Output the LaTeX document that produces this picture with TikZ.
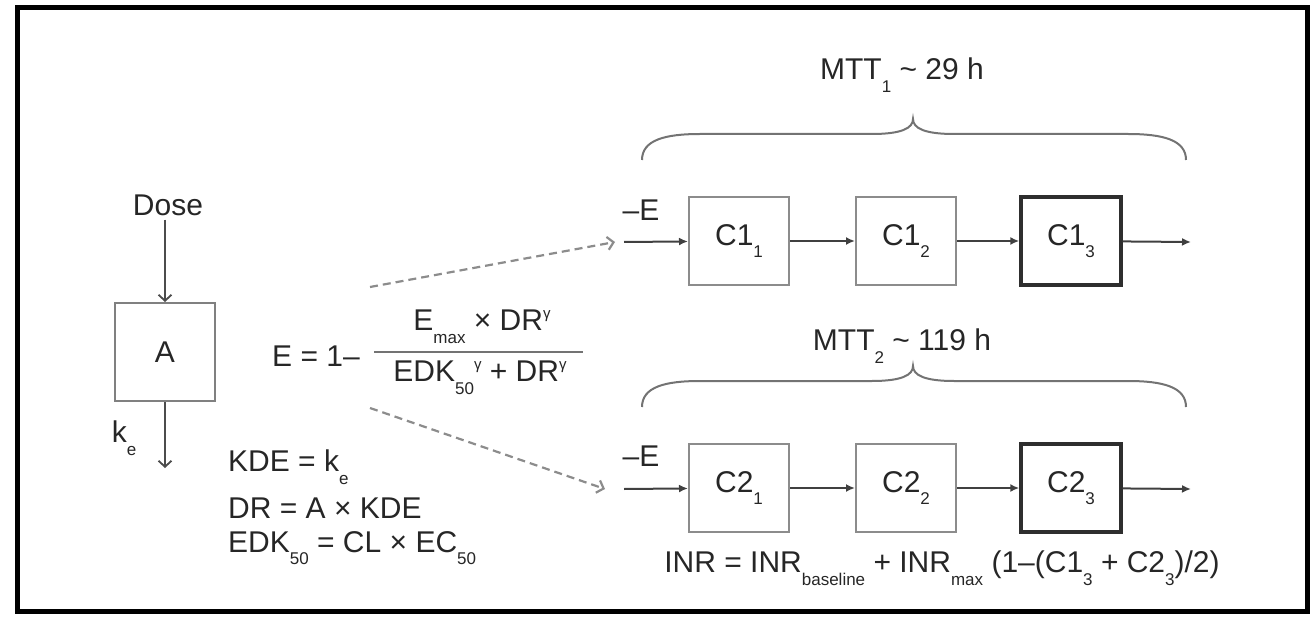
\documentclass[tikz,border=0pt]{standalone}
\usepackage{fontspec}
\setmainfont{Liberation Sans}
\usetikzlibrary{arrows.meta}
\newcommand{\lsub}[1]{\raisebox{-0.42em}{\fontsize{17}{17}\selectfont #1}}
\newcommand{\lsup}[1]{\raisebox{0.42em}{\fontsize{15}{15}\selectfont #1}}
\begin{document}
\begin{tikzpicture}[x=1pt,y=-1pt,
  txt/.style={font=\fontsize{30}{35}\selectfont, text=black!85, inner sep=0pt},
  comp/.style={txt, draw=black!45, line width=2pt, minimum width=100pt, minimum height=88pt},
  compthick/.style={comp, draw=black!82, line width=3.4pt},
  flow/.style={draw=black!75, line width=2pt, -{Latex[length=9pt,width=8pt]}},
  vflow/.style={draw=black!70, line width=1.8pt, -{Straight Barb[length=6pt,width=13pt]}},
  dasharrow/.style={draw=black!45, line width=2.2pt, dash pattern=on 8pt off 5pt, -{Straight Barb[length=6pt,width=13pt]}},
  bracepath/.style={draw=black!55, line width=2pt}
]
\useasboundingbox (0,0) rectangle (1314,620);
\draw[line width=5pt, black] (17,8) rectangle (1307,611);

% left part
\node[txt] (dose) at (168,205) {Dose};
\node[txt, draw=black!50, line width=2pt, minimum width=100pt, minimum height=98pt] (A) at (165,352) {A};
\draw[vflow] (A.north |- dose.south) ++(0,4) -- (A.north);
\coordinate (keend) at (165,468);
\draw[vflow] (A.south) -- (keend);
\node[txt] (ke) at (124,438) {k\lsub{e}};

\node[txt, anchor=west] (kde) at (228,467) {KDE = k\lsub{e}};
\node[txt, anchor=west] (dr) at (228,508) {DR = A × KDE};
\node[txt, anchor=west] (edk) at (228,548) {EDK\lsub{50} = CL × EC\lsub{50}};

% effect formula
\node[txt] (eq) at (316,356) {E = 1–};
\node[txt] (num) at (482,327) {E\lsub{max} × DR\lsup{γ}};
\node[txt] (den) at (480,378) {EDK\lsub{50}\lsup{γ} + DR\lsup{γ}};
\draw[draw=black!55, line width=2pt] (374,352) -- (583,352);

\coordinate (d1s) at (370,287);
\coordinate (d1e) at (615,242);
\coordinate (d2s) at (370,408);
\coordinate (d2e) at (605,489);
\draw[dasharrow] (d1s) -- (d1e);
\draw[dasharrow] (d2s) -- (d2e);

% top chain
\node[txt] (mtt1) at (902,75) {MTT\lsub{1} \textasciitilde{} 29 h};
\draw[bracepath] (642,160) .. controls (642,140) and (665,134) .. (700,134) -- (872,134) .. controls (902,134) and (913,128) .. (913,119) .. controls (913,128) and (924,134) .. (954,134) -- (1128,134) .. controls (1163,134) and (1186,140) .. (1186,160);
\coordinate (in1) at (624,242);
\node[txt] (me1) at (641,210) {–E};
\node[comp] (C11) at (739,241) {C1\lsub{1}};
\node[comp] (C12) at (906,241) {C1\lsub{2}};
\node[compthick] (C13) at (1071,241) {C1\lsub{3}};
\coordinate (out1) at (1191,242);
\draw[flow] (in1) -- (C11);
\draw[flow] (C11) -- (C12);
\draw[flow] (C12) -- (C13);
\draw[flow] (C13) -- (out1);

% bottom chain
\node[txt] (mtt2) at (902,346) {MTT\lsub{2} \textasciitilde{} 119 h};
\draw[bracepath] (642,407) .. controls (642,387) and (665,381) .. (700,381) -- (872,381) .. controls (902,381) and (913,375) .. (913,366) .. controls (913,375) and (924,381) .. (954,381) -- (1128,381) .. controls (1163,381) and (1186,387) .. (1186,407);
\coordinate (in2) at (624,489);
\node[txt] (me2) at (641,456) {–E};
\node[comp] (C21) at (739,488) {C2\lsub{1}};
\node[comp] (C22) at (906,488) {C2\lsub{2}};
\node[compthick] (C23) at (1071,488) {C2\lsub{3}};
\coordinate (out2) at (1191,489);
\draw[flow] (in2) -- (C21);
\draw[flow] (C21) -- (C22);
\draw[flow] (C22) -- (C23);
\draw[flow] (C23) -- (out2);

\node[txt] (inr) at (942,568) {INR = INR\lsub{baseline} + INR\lsub{max} (1–(C1\lsub{3} + C2\lsub{3})/2)};
\end{tikzpicture}
\end{document}
